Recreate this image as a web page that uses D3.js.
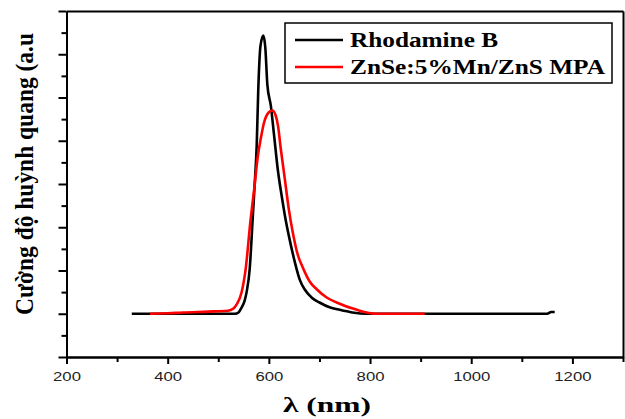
<!DOCTYPE html>
<html>
<head>
<meta charset="utf-8">
<script src="https://cdn.jsdelivr.net/npm/d3@7"></script>
<style>
  body { margin: 0; background: #fff; }
  svg { display: block; }
</style>
</head>
<body>
<script>
// spectra (wavelength nm, intensity a.u.)
const rhodWl = [329, 450, 533, 540, 546, 552, 556, 562, 568, 572, 576, 579, 583.5, 589, 593, 597, 604, 610, 618, 625, 632, 641, 651, 661, 671, 685, 700, 720, 740, 765, 793, 900, 1000, 1100, 1150, 1158, 1165]
const rhodI  = [0, 0, 0, 0.03, 0.14, 0.3, 0.5, 1.02, 2.19, 3.0, 3.9, 5.16, 6.2, 6.43, 6.15, 5.3, 4.8, 4.16, 3.3, 2.75, 2.25, 1.72, 1.21, 0.79, 0.56, 0.37, 0.26, 0.15, 0.09, 0.03, 0, 0, 0, 0, 0, 0.04, 0.04]

const znWl = [365, 400, 430, 480, 519, 530, 536, 546, 554, 564, 571, 578, 584, 590, 600, 607, 613, 618, 623.6, 631.5, 639.4, 647.3, 657, 667, 681, 695, 715, 734, 774, 813, 850, 908]
const znI  = [0, 0.01, 0.03, 0.05, 0.07, 0.12, 0.21, 0.49, 1.02, 2.19, 2.88, 3.63, 4.05, 4.4, 4.66, 4.7, 4.6, 4.35, 3.81, 3.12, 2.42, 1.88, 1.37, 1.07, 0.74, 0.56, 0.37, 0.26, 0.09, 0, 0, 0]

const seriesNames = ["Rhodamine B", "ZnSe:5%Mn/ZnS MPA"]
const seriesColors = ["#000000", "#ff0000"]

const xMajor = [200, 400, 600, 800, 1000, 1200]
const xMinor = [300, 500, 700, 900, 1100, 1300]
const yMajor = [-1, 0, 1, 2, 3, 4, 5, 6, 7]
const yMinor = [-0.5, 0.5, 1.5, 2.5, 3.5, 4.5, 5.5, 6.5]

const width = 625
const height = 419
const plotL = 66.5, plotR = 623, plotT = 11, plotB = 357

let svg = d3.select("body").append("svg")
    .attr("width", width)
    .attr("height", height)

let x = d3.scaleLinear().domain([200, 1300]).range([plotL, plotR])
let y = d3.scaleLinear().domain([-1, 7]).range([plotB, plotT])

// curves first, axes on top
let line = d3.line()
    .x(d => x(d[0]))
    .y(d => y(d[1]))
    .curve(d3.curveMonotoneX)

let rhod = d3.zip(rhodWl, rhodI)
let zn = d3.zip(znWl, znI)

svg.append("path").datum(rhod)
    .attr("d", line)
    .attr("fill", "none")
    .attr("stroke", seriesColors[0])
    .attr("stroke-width", 2.6)
    .attr("stroke-linejoin", "round")

svg.append("path").datum(zn)
    .attr("d", line)
    .attr("fill", "none")
    .attr("stroke", seriesColors[1])
    .attr("stroke-width", 2.6)
    .attr("stroke-linejoin", "round")

// x axis: minor then major ticks
svg.append("g")
    .attr("transform", `translate(0,${plotB})`)
    .call(d3.axisBottom(x).tickValues(xMinor).tickSize(5).tickFormat("").tickSizeOuter(0))
let xAxis = svg.append("g")
    .attr("transform", `translate(0,${plotB})`)
    .call(d3.axisBottom(x).tickValues(xMajor).tickFormat(d3.format("d"))
        .tickSize(7).tickSizeOuter(0).tickPadding(8))
xAxis.selectAll("text")
    .attr("font-family", "'Liberation Sans', Arial, sans-serif")
    .attr("font-size", 13)
    .attr("fill", "#222")
    .attr("textLength", d => String(d).length * 9.3)
    .attr("lengthAdjust", "spacingAndGlyphs")

// y axis, no labels
svg.append("g")
    .attr("transform", `translate(${plotL},0)`)
    .call(d3.axisLeft(y).tickValues(yMinor).tickSize(5).tickFormat("").tickSizeOuter(0))
svg.append("g")
    .attr("transform", `translate(${plotL},0)`)
    .call(d3.axisLeft(y).tickValues(yMajor).tickSize(8).tickFormat("").tickSizeOuter(0))

// frame top/right
svg.append("g")
    .attr("transform", `translate(0,${plotT})`)
    .call(d3.axisTop(x).tickValues([]).tickSizeOuter(0))
svg.append("g")
    .attr("transform", `translate(${plotR},0)`)
    .call(d3.axisRight(y).tickValues([]).tickSizeOuter(0))

svg.selectAll(".domain, .tick line")
    .attr("stroke", "#000")
    .attr("stroke-width", 2)

// legend
let legend = svg.append("g")
legend.append("rect")
    .attr("x", 285).attr("y", 23)
    .attr("width", 327).attr("height", 60)
    .attr("fill", "#fff")
    .attr("stroke", "#000")
    .attr("stroke-width", 1.5)

const legendWidths = [148, 255]
seriesNames.forEach((name, i) => {
    let ly = 40 + i * 27
    legend.append("line")
        .attr("x1", 295).attr("x2", 343)
        .attr("y1", ly).attr("y2", ly)
        .attr("stroke", seriesColors[i])
        .attr("stroke-width", 2.5)
    legend.append("text")
        .attr("x", 350).attr("y", ly + 6.5)
        .attr("font-family", "'Liberation Serif', 'Times New Roman', serif")
        .attr("font-weight", "bold")
        .attr("font-size", 20)
        .attr("fill", "#000")
        .attr("textLength", legendWidths[i])
        .attr("lengthAdjust", "spacingAndGlyphs")
        .text(name)
})

// axis titles
svg.append("text")
    .attr("x", 283).attr("y", 412)
    .attr("font-family", "'Liberation Serif', 'Times New Roman', serif")
    .attr("font-weight", "bold")
    .attr("font-size", 21)
    .attr("fill", "#000")
    .attr("textLength", 88)
    .attr("lengthAdjust", "spacingAndGlyphs")
    .text("λ (nm)")

svg.append("text")
    .attr("transform", "translate(33,315) scale(1.3,1) rotate(-90)")
    .attr("font-family", "'Liberation Serif', 'Times New Roman', serif")
    .attr("font-weight", "bold")
    .attr("font-size", 20)
    .attr("fill", "#000")
    .attr("textLength", 282)
    .attr("lengthAdjust", "spacingAndGlyphs")
    .text("Cường độ huỳnh quang (a.u")
</script>
</body>
</html>
